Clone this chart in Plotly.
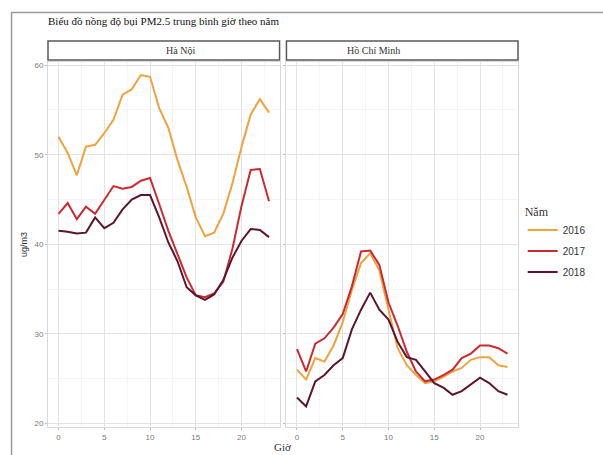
import plotly.graph_objects as go
from plotly.subplots import make_subplots

hours = list(range(24))
years = ["2016", "2017", "2018"]
cities = ["Hà Nội", "Hồ Chí Minh"]

hn_2016 = [52.0, 50.2, 47.7, 50.9, 51.1, 52.4, 53.9, 56.7, 57.3, 58.9, 58.7, 55.2,
           53.0, 49.4, 46.4, 43.0, 40.9, 41.3, 43.4, 46.8, 50.9, 54.5, 56.2, 54.7]
hn_2017 = [43.4, 44.6, 42.8, 44.2, 43.4, 44.9, 46.5, 46.2, 46.4, 47.1, 47.4, 44.5,
           41.5, 38.9, 36.3, 34.3, 34.1, 34.5, 35.8, 39.5, 44.3, 48.3, 48.4, 44.8]
hn_2018 = [41.5, 41.4, 41.2, 41.3, 43.0, 41.8, 42.4, 43.9, 45.0, 45.5, 45.5, 43.0,
           40.2, 38.1, 35.2, 34.3, 33.8, 34.4, 36.0, 38.5, 40.4, 41.7, 41.6, 40.8]

hcm_2016 = [26.0, 24.9, 27.3, 26.9, 28.7, 31.3, 34.9, 37.9, 39.0, 37.1, 32.7, 28.4,
            26.5, 25.4, 24.5, 24.7, 25.2, 25.8, 26.2, 27.1, 27.4, 27.4, 26.5, 26.3]
hcm_2017 = [28.3, 25.8, 28.9, 29.5, 30.7, 32.2, 35.3, 39.2, 39.3, 37.7, 33.5, 30.9,
            28.0, 25.8, 24.7, 24.9, 25.4, 26.0, 27.3, 27.8, 28.7, 28.7, 28.4, 27.8]
hcm_2018 = [22.9, 21.9, 24.7, 25.4, 26.5, 27.3, 30.5, 32.7, 34.6, 32.7, 31.6, 29.1,
            27.4, 27.1, 25.8, 24.5, 24.0, 23.2, 23.6, 24.3, 25.1, 24.5, 23.6, 23.2]

y_ticks = [20, 30, 40, 50, 60]
x_ticks = [0, 5, 10, 15, 20]

colors = {"2016": "#EFA33F", "2017": "#CC2A2F", "2018": "#5B1530"}

W, H = 603, 455
L, R, T, B = 48, 78, 62, 28

fig = make_subplots(rows=1, cols=2, shared_yaxes=True, horizontal_spacing=7 / (W - L - R))

series = {
    1: dict(zip(years, [hn_2016, hn_2017, hn_2018])),
    2: dict(zip(years, [hcm_2016, hcm_2017, hcm_2018])),
}
for col in (1, 2):
    for yr in years:
        fig.add_trace(go.Scatter(
            x=hours, y=series[col][yr], mode="lines", name=yr,
            legendgroup=yr, showlegend=(col == 1),
            line=dict(color=colors[yr], width=2),
        ), row=1, col=col)

axis_common = dict(
    showline=True, linecolor="#d9d9d9", linewidth=1, mirror=True,
    gridcolor="#e3e3e3", gridwidth=1, zeroline=False,
    tickfont=dict(family="Liberation Sans", size=8, color="#7a7a7a"),
    ticks="outside", ticklen=2, tickcolor="#bdbdbd",
)
for col in (1, 2):
    fig.update_xaxes(range=[-1.15, 24.15], tickvals=x_ticks, row=1, col=col,
                     minor=dict(showgrid=True, gridcolor="#f4f4f4", dtick=2.5, tick0=0),
                     **axis_common)
    fig.update_yaxes(range=[19.6, 60.35], tickvals=y_ticks, row=1, col=col,
                     minor=dict(showgrid=True, gridcolor="#f4f4f4", dtick=5, tick0=0),
                     **axis_common)
fig.update_yaxes(showticklabels=False, row=1, col=2)

ph = H - T - B
pw = W - L - R
def py(pix):
    return 1 - (pix - T) / ph
def px(pix):
    return (pix - L) / pw

# facet strips
dom1 = fig.layout.xaxis.domain
dom2 = fig.layout.xaxis2.domain
for dom, name in zip([dom1, dom2], cities):
    fig.add_shape(type="rect", xref="paper", yref="paper",
                  x0=dom[0], x1=dom[1], y0=py(60), y1=py(41),
                  line=dict(color="#5a5a5a", width=1.5), fillcolor="white")
    fig.add_annotation(x=(dom[0] + dom[1]) / 2, y=py(50.5), xref="paper", yref="paper",
                       yanchor="middle", text=name, showarrow=False,
                       font=dict(family="Liberation Serif", size=10, color="#333333"))

# outer frame (scan border)
fig.add_shape(type="rect", xref="paper", yref="paper", layer="below",
              x0=px(11), x1=px(640), y0=py(12.5), y1=py(480),
              line=dict(color="#9a9a9a", width=1.5), fillcolor="rgba(0,0,0,0)")

fig.add_annotation(x=px(16), y=0.5, xref="paper", yref="paper", text="ug/m3",
                   textangle=-90, showarrow=False,
                   font=dict(family="Liberation Sans", size=9, color="#333333"))
fig.add_annotation(x=px(286), y=py(447), xref="paper", yref="paper", text="Giờ",
                   yanchor="middle", showarrow=False,
                   font=dict(family="Liberation Serif", size=11, color="#333333"))

fig.update_layout(
    width=W, height=H,
    margin=dict(l=L, r=R, t=T, b=B),
    paper_bgcolor="white", plot_bgcolor="white",
    title=dict(text="Biểu đồ nồng độ bụi PM2.5 trung bình giờ theo năm",
               x=L / W, xanchor="left", xref="container",
               y=1 - 21 / H, yanchor="middle", yref="container",
               font=dict(family="Liberation Serif", size=11, color="#111111")),
    legend=dict(x=1.01, xanchor="left", y=py(200), yanchor="top",
                title=dict(text="Năm", font=dict(family="Liberation Serif", size=12, color="#333333")),
                font=dict(family="Liberation Sans", size=10, color="#333333"),
                tracegroupgap=2, itemwidth=30, bgcolor="rgba(0,0,0,0)"),
    showlegend=True,
)

fig.write_html("out.html", config={"displayModeBar": False},
               post_script="document.body.style.margin='0px';document.body.style.padding='0px';")
